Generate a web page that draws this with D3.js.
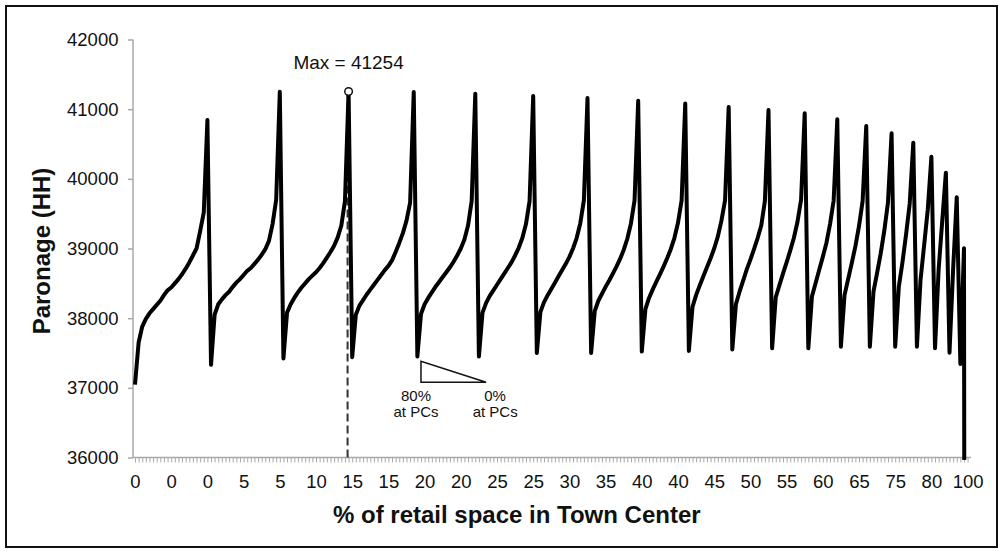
<!DOCTYPE html>
<html><head><meta charset="utf-8">
<script src="https://cdn.jsdelivr.net/npm/d3@7"></script>
<style>
body{margin:0;background:#fff}
svg{display:block}
text{font-family:"Liberation Sans",Arial,Helvetica,sans-serif;fill:#111}
</style>
</head><body>
<svg id="chart" width="1003" height="553"></svg>
<script>
// ---- data ----
const xLabels = ["0","0","0","5","5","10","15","15","20","20","25","25","30","35","40","40","45","50","55","60","65","75","80","100"];
const yTicks = [36000,37000,38000,39000,40000,41000,42000];
const patronage = [
  37045,37650,37880,37990,38070,38130,38190,38250,38330,38400,38440,38500,38560,38630,38710,38800,38900,39000,39250,39520,
  40845,
  37330,38050,38200,38270,38330,38380,38450,38510,38560,38620,38680,38720,38780,38840,38910,38990,39110,39350,39700,
  41250,
  37420,38080,38200,38290,38370,38440,38500,38560,38610,38660,38720,38790,38870,38950,39040,39160,39330,39680,
  41254,
  37440,38050,38180,38260,38340,38410,38480,38550,38620,38690,38750,38830,38950,39080,39220,39400,39660,
  41245,
  37450,38060,38200,38290,38370,38450,38520,38590,38660,38730,38810,38900,39000,39130,39330,39680,
  41220,
  37450,38080,38220,38320,38400,38480,38560,38640,38720,38800,38900,39010,39150,39350,39680,
  41190,
  37500,38090,38230,38330,38420,38510,38600,38690,38780,38880,39000,39150,39360,39690,
  41160,
  37500,38100,38250,38350,38450,38540,38640,38740,38850,38980,39140,39360,39690,
  41120,
  37520,38130,38290,38410,38520,38630,38740,38860,38990,39150,39370,39690,
  41080,
  37530,38160,38330,38470,38600,38730,38860,39000,39170,39400,39690,
  41030,
  37550,38200,38380,38540,38700,38840,38990,39150,39330,39680,
  40988,
  37568,38300,38470,38640,38800,38970,39150,39380,39700,
  40941,
  37568,38310,38500,38690,38880,39080,39350,39690,
  40855,
  37591,38330,38560,38790,39030,39320,39680,
  40758,
  37591,38380,38650,38930,39260,39660,
  40653,
  37591,38450,38800,39200,39640,
  40519,
  37591,38550,39050,39560,
  40318,
  37568,38700,39400,
  40089,
  37504,38700,
  39735,
  37342,
  39003,
  0
];
const maxText = "Max = 41254";
const annotLeft = ["80%","at PCs"];
const annotRight = ["0%","at PCs"];

// ---- chart ----
const svg = d3.select("#chart");
const W = 1003, H = 553;
const idx = d3.range(patronage.length);
const x = d3.scalePoint().domain(idx).range([135, 967.6]);
const y = d3.scaleLinear().domain([36000, 42000]).range([457.5, 39.5]);
const axisGray = "#a9a9a9";
const FONT = '"Liberation Sans",Arial,sans-serif';

// outer frame
svg.append("rect").attr("x",6).attr("y",6).attr("width",W-12).attr("height",H-12)
  .attr("fill","none").attr("stroke","#111").attr("stroke-width",2);

// clip for plot area
svg.append("defs").append("clipPath").attr("id","plot")
  .append("rect").attr("x",133).attr("y",0).attr("width",850).attr("height",460);

// y axis
const yAxis = svg.append("g").attr("transform","translate(133,0)")
  .call(d3.axisLeft(y).tickValues(yTicks).tickSize(5).tickPadding(9.5).tickFormat(d3.format("d")));
yAxis.select(".domain").attr("stroke",axisGray).attr("stroke-width",1.5).attr("d",`M0,${y(42000)}V${y(36000)}`);
yAxis.selectAll(".tick line").attr("stroke",axisGray).attr("stroke-width",1.5);
yAxis.selectAll(".tick text").attr("font-size",18.5).attr("fill","#111").style("font-family",FONT);

// x axis
const xAxis = svg.append("g").attr("transform",`translate(0,${y(36000)})`)
  .call(d3.axisBottom(x).tickValues(idx).tickSize(5).tickPadding(12.3)
    .tickFormat(i => i % 10 === 0 ? xLabels[i/10] : ""));
xAxis.select(".domain").attr("stroke",axisGray).attr("stroke-width",1.5).attr("d","M133,0H971");
xAxis.selectAll(".tick line").attr("stroke",axisGray).attr("stroke-width",1);
xAxis.selectAll(".tick text").attr("font-size",18.5).attr("fill","#111").style("font-family",FONT);

// dashed line at max
const maxIdx = patronage.indexOf(d3.max(patronage));
svg.append("line").attr("x1",x(maxIdx)-1).attr("x2",x(maxIdx)-1)
  .attr("y1",y(36000)).attr("y2",y(patronage[maxIdx]))
  .attr("stroke","#333").attr("stroke-width",2).attr("stroke-dasharray","8,4");

// main line
const line = d3.line().x((d,i)=>x(i)).y(d=>y(d));
svg.append("path").datum(patronage).attr("clip-path","url(#plot)")
  .attr("d",line).attr("fill","none").attr("stroke","#000")
  .attr("stroke-width",4).attr("stroke-linejoin","round");

// max marker
svg.append("circle").attr("cx",x(maxIdx)).attr("cy",y(patronage[maxIdx])).attr("r",3.8)
  .attr("fill","#fff").attr("stroke","#111").attr("stroke-width",1.5);
svg.append("text").attr("x",x(maxIdx)).attr("y",68.5).attr("text-anchor","middle")
  .attr("font-size",19).text(maxText);

// triangle annotation
const tx0 = x(79), tx1 = x(97), ty0 = y(37380), ty1 = y(37080);
svg.append("path").attr("d",`M${tx0},${ty0}L${tx0},${ty1}L${tx1},${ty1}Z`)
  .attr("fill","#fff").attr("stroke","#111").attr("stroke-width",1.5);
[[annotLeft, tx0-5],[annotRight, tx1+9]].forEach(([lines,cx])=>{
  lines.forEach((t,k)=>{
    svg.append("text").attr("x",cx).attr("y",401 + k*16.3).attr("text-anchor","middle")
      .attr("font-size",15).text(t);
  });
});

// axis titles
svg.append("text").attr("x",333).attr("y",522.5).attr("text-anchor","start")
  .attr("font-size",24).attr("font-weight","bold").text("% of retail space in Town Center");
svg.append("text").attr("transform","translate(50,251) rotate(-90)").attr("text-anchor","middle")
  .attr("font-size",24).attr("font-weight","bold").text("Paronage (HH)");
</script>
</body></html>
